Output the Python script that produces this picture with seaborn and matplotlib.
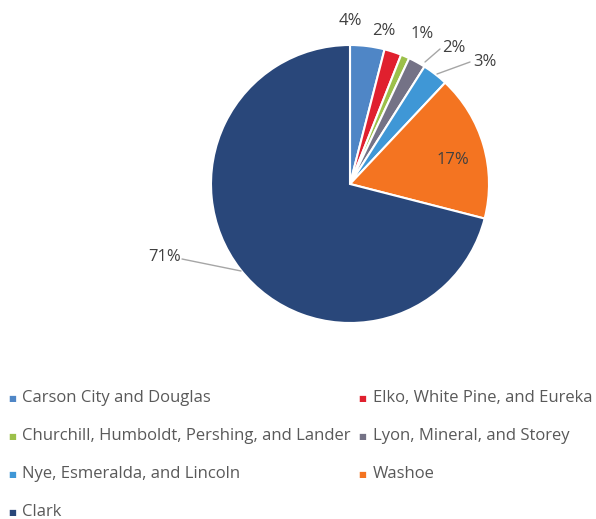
import matplotlib
matplotlib.use("Agg")
import matplotlib.pyplot as plt
import seaborn as sns

# County groups and their share of the total (percent)
regions = [
    "Carson City and Douglas",
    "Elko, White Pine, and Eureka",
    "Churchill, Humboldt, Pershing, and Lander",
    "Lyon, Mineral, and Storey",
    "Nye, Esmeralda, and Lincoln",
    "Washoe",
    "Clark",
]
shares = [4, 2, 1, 2, 3, 17, 71]
slice_colors = ["#4f86c6", "#e0202e", "#9cc04a", "#747286", "#3f97d6", "#f47421", "#29477a"]

sns.set_theme(style="white")
plt.rcParams["font.family"] = ["Open Sans", "DejaVu Sans"]
palette = sns.color_palette(slice_colors)

fig = plt.figure(figsize=(5.96, 5.19), dpi=100)
W, H = 596, 519
cx, cy, r = 350, 184, 139
ax = fig.add_axes([(cx - r) / W, (H - cy - r) / H, 2 * r / W, 2 * r / H])

wedges, _ = ax.pie(
    shares,
    colors=palette,
    startangle=90,
    counterclock=False,
    wedgeprops=dict(edgecolor="white", linewidth=1.5),
)
ax.set_xlim(-1, 1)
ax.set_ylim(-1, 1)
ax.set_aspect("equal")
ax.axis("off")


def px(x, y):
    return ((x - cx) / r, (cy - y) / r)


label_color = "#404040"
# (text position, optional leader line start / end) in pixel space
label_spots = [
    ((350, 21), None),
    ((384, 31), None),
    ((422, 34), None),
    ((454, 48), ((425, 62), (440, 49))),
    ((485, 62), ((437, 74), (470, 62))),
    ((453, 160), None),
    ((165, 257), ((241, 271), (182, 259))),
]
for val, (pos, lead) in zip(shares, label_spots):
    tx, ty = px(*pos)
    ax.text(tx, ty, f"{val}%", ha="center", va="center", fontsize=12,
            color=label_color, clip_on=False)
    if lead is not None:
        (x0, y0), (x1, y1) = lead
        a0 = px(x0, y0)
        a1 = px(x1, y1)
        ax.plot([a0[0], a1[0]], [a0[1], a1[1]], color="#a6a6a6", lw=1.0,
                clip_on=False)

# Legend laid out as a two-column grid of square markers and names
legend_rows = [398, 436, 474, 512]
legend_cols = [(12, 22), (362, 373)]
for i, (name, col) in enumerate(zip(regions, palette)):
    row, c = divmod(i, 2)
    mx, tx = legend_cols[c]
    y = legend_rows[row]
    fig.text(mx / W, 1 - y / H, "\u25a0", ha="center", va="center",
             fontsize=6, color=col, family=["DejaVu Sans"])
    fig.text(tx / W, 1 - y / H, name, ha="left", va="center",
             fontsize=12, color="#595959")

fig.savefig("out.png", dpi=100, facecolor="white")
